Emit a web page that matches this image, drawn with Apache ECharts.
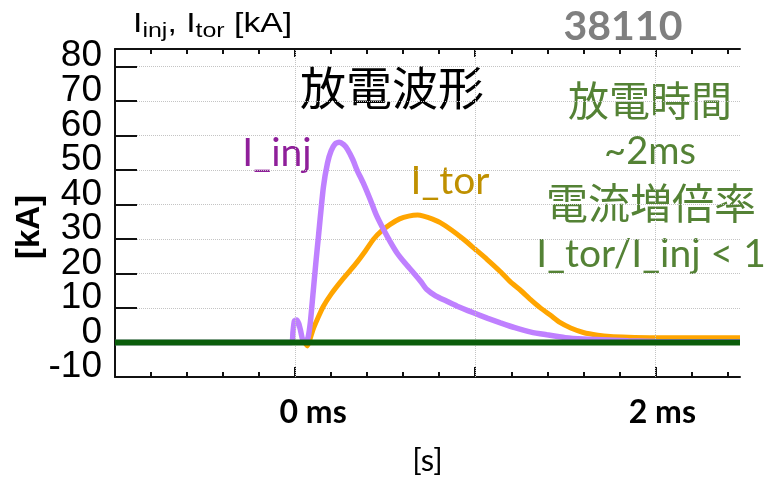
<!DOCTYPE html>
<html>
<head>
<meta charset="utf-8">
<script src="https://cdn.jsdelivr.net/npm/echarts@6/dist/echarts.min.js"></script>
<style>html,body{margin:0;padding:0;background:#fff}#c{width:771px;height:482px}</style>
</head>
<body>
<div id="c"></div>
<script>
// ---- data (time in ms, current in kA) ----
const injT = [-1, -0.02, -0.012, -0.004, 0.008, 0.02, 0.03, 0.042, 0.058, 0.072, 0.085, 0.1, 0.115, 0.13, 0.157, 0.18, 0.2, 0.222, 0.245, 0.27, 0.29, 0.32, 0.343, 0.38, 0.417, 0.45, 0.49, 0.53, 0.565, 0.61, 0.657, 0.7, 0.73, 0.78, 0.84, 0.9, 0.99, 1.07, 1.14, 1.22, 1.31, 1.4, 1.5, 1.6, 1.7, 1.85, 2.0, 2.47];
const injV = [0, 0, 3, 6.2, 6.5, 5.5, 3.5, 0.8, 0.2, 1.5, 6, 14.5, 23, 31, 45, 52, 55.5, 57.5, 58, 57.3, 56, 53, 50, 46, 41.4, 37, 32.8, 29, 26, 23, 20.2, 17.5, 15.4, 13.5, 12, 10.5, 8.6, 7, 5.7, 4.3, 3, 2.2, 1.4, 1, 0.8, 0.5, 0.3, 0.2];
const torT = [-1, 0.05, 0.068, 0.08, 0.1, 0.13, 0.157, 0.2, 0.25, 0.3, 0.343, 0.39, 0.435, 0.48, 0.528, 0.58, 0.63, 0.68, 0.713, 0.76, 0.806, 0.87, 0.935, 1.0, 1.065, 1.14, 1.194, 1.25, 1.306, 1.36, 1.42, 1.47, 1.53, 1.6, 1.68, 1.75, 1.85, 1.97, 2.2, 2.47];
const torV = [0, 0, -1, 0.5, 3.8, 7.5, 10.5, 14, 17.4, 20.5, 23.2, 26.5, 29.9, 32.3, 34.2, 35.8, 36.6, 36.9, 36.6, 35.8, 34.7, 32.5, 29.9, 27, 24.1, 20.5, 17.6, 15.2, 12.5, 10.1, 7.8, 5.8, 4.2, 2.9, 2.1, 1.7, 1.5, 1.4, 1.4, 1.4];
const zeroT = [-1, 2.47];
const zeroV = [0, 0];
const yMainLabels = [0, 10, 20, 30, 40, 50, 60, 70, 80];
const yBottomLabels = [-10];
const minorTicks = [-0.8, -0.6, -0.4, -0.2, 0, 0.2, 0.4, 0.6, 0.8, 1, 1.2, 1.4, 1.6, 1.8, 2, 2.2, 2.4];
const majorTicks = [0, 1, 2];
const xLabelValues = [0, 2];
const xLabelTexts = ['0 ms', '2 ms'];

const pair = (t, v) => t.map((x, i) => [x, v[i]]);
const X_MIN = -1, X_MAX = 2.47;
const black = '#111';

const baseX = {
  type: 'value', min: X_MIN, max: X_MAX, interval: 1,
  splitLine: { show: false }, axisLabel: { show: false },
  axisLine: { show: false, onZero: false }
};
const yLabelStyle = {
  margin: 13, fontFamily: 'Liberation Sans', fontSize: 37, color: '#000',
  lineHeight: 20, verticalAlign: 'bottom', hideOverlap: false
};
const pick = list => v => (list.indexOf(Math.round(v)) >= 0 && Math.abs(v - Math.round(v)) < 1e-6 ? String(Math.round(v)) : '');

const option = {
  animation: false,
  backgroundColor: '#fff',
  grid: { left: 115, right: 31, top: 49, bottom: 105, containLabel: false, outerBoundsMode: 'none' },
  xAxis: [
    Object.assign({}, baseX, {
      position: 'bottom',
      axisLine: { show: true, onZero: false, lineStyle: { color: black, width: 2 } },
      axisTick: { show: true, inside: true, length: 5, customValues: minorTicks, lineStyle: { color: black, width: 2 } },
      axisLabel: {
        show: true, customValues: xLabelValues, margin: 20,
        fontFamily: 'Lato', fontWeight: 'bold', fontSize: 32, color: '#000',
        formatter: v => v === 0 ? '{a|' + xLabelTexts[0] + '}' : '{b|' + xLabelTexts[1] + '}',
        rich: {
          a: { fontFamily: 'Lato', fontWeight: 'bold', fontSize: 32, color: '#000', padding: [0, 0, 0, 36] },
          b: { fontFamily: 'Lato', fontWeight: 'bold', fontSize: 32, color: '#000', padding: [0, 0, 0, 14] }
        }
      },
      name: '[s]', nameLocation: 'middle', nameGap: 68,
      nameTextStyle: { fontFamily: 'Lato', fontSize: 31, color: '#000' }
    }),
    Object.assign({}, baseX, {
      position: 'bottom',
      axisTick: { show: true, inside: true, length: 10, customValues: majorTicks, lineStyle: { color: black, width: 2 } }
    }),
    Object.assign({}, baseX, {
      position: 'top',
      axisLine: { show: true, onZero: false, lineStyle: { color: black, width: 2 } },
      axisTick: { show: true, inside: true, length: 5, customValues: minorTicks, lineStyle: { color: black, width: 2 } }
    }),
    Object.assign({}, baseX, {
      position: 'top',
      axisTick: { show: true, inside: true, length: 8, customValues: majorTicks, lineStyle: { color: black, width: 2 } }
    })
  ],
  yAxis: [
    {
      type: 'value', min: -10, max: 85, interval: 10, position: 'left',
      axisLine: { show: true, onZero: false, lineStyle: { color: black, width: 2 } },
      axisTick: { show: true, inside: true, length: 22, lineStyle: { color: black, width: 2 } },
      splitLine: { show: true, lineStyle: { type: 'dotted', color: '#c4c4c4', width: 1 } },
      axisLabel: Object.assign({}, yLabelStyle, { showMinLabel: true, showMaxLabel: false, formatter: pick(yMainLabels) })
    },
    {
      type: 'value', min: -10, max: 85, interval: 10, position: 'left',
      axisLine: { show: false, onZero: false }, axisTick: { show: false }, splitLine: { show: false },
      axisLabel: Object.assign({}, yLabelStyle, { showMinLabel: true, showMaxLabel: false, formatter: pick(yBottomLabels) })
    }
  ],
  series: [
    {
      type: 'line', xAxisIndex: 0, data: [[X_MIN, 0]], showSymbol: false, silent: true,
      lineStyle: { width: 0, opacity: 0 }, z: 1,
      markLine: {
        silent: true, symbol: ['none', 'none'], label: { show: false },
        lineStyle: { type: 'dotted', color: '#c4c4c4', width: 1 },
        data: majorTicks.map(v => ({ xAxis: v }))
      }
    },
    {
      name: 'I_tor', type: 'line', xAxisIndex: 0, data: pair(torT, torV), showSymbol: false,
      smooth: 0.2, lineStyle: { color: '#FFA500', width: 5 }, z: 3
    },
    {
      name: 'I_inj', type: 'line', xAxisIndex: 0, data: pair(injT, injV), showSymbol: false,
      smooth: 0.2, lineStyle: { color: '#BF80FF', width: 5.5 }, z: 4
    },
    {
      name: 'zero', type: 'line', xAxisIndex: 0, data: pair(zeroT, zeroV), showSymbol: false,
      lineStyle: { color: '#0B5E0B', width: 6 }, z: 5
    }
  ],
  graphic: [
    { type: 'text', x: 133, y: 41, scaleX: 1.25, style: {
      text: 'I{s|inj}, I{s|tor} [kA]', fontFamily: 'Liberation Sans', fontSize: 27, fill: '#000',
      verticalAlign: 'bottom',
      rich: { s: { fontFamily: 'Liberation Sans', fontSize: 20, fill: '#000', padding: [13, 0, 0, 0] } }
    } },
    { type: 'text', x: 623, y: 27, style: { text: '38110', fontFamily: 'Lato', fontWeight: 'bold', fontSize: 41, fill: '#7f7f7f', align: 'center', verticalAlign: 'middle' } },
    { type: 'text', x: 392, y: 88, style: { text: '放電波形', fontFamily: 'Noto Sans CJK JP', fontSize: 46, fill: '#000', align: 'center', verticalAlign: 'middle' } },
    { type: 'text', x: 277, y: 153, style: { text: 'I_inj', fontFamily: 'Lato', fontSize: 39, fill: '#8F1F9A', align: 'center', verticalAlign: 'middle' } },
    { type: 'text', x: 450, y: 181, style: { text: 'I_tor', fontFamily: 'Lato', fontSize: 39, fill: '#BF9000', align: 'center', verticalAlign: 'middle' } },
    { type: 'text', x: 650, y: 100, style: { text: '放電時間', fontFamily: 'Noto Sans CJK JP', fontSize: 41, fill: '#548235', align: 'center', verticalAlign: 'middle' } },
    { type: 'text', x: 650, y: 152, style: { text: '~2ms', fontFamily: 'Lato', fontSize: 38, fill: '#548235', align: 'center', verticalAlign: 'middle' } },
    { type: 'text', x: 651, y: 203, style: { text: '電流増倍率', fontFamily: 'Noto Sans CJK JP', fontSize: 42, fill: '#548235', align: 'center', verticalAlign: 'middle' } },
    { type: 'text', x: 651, y: 254, style: { text: 'I_tor/I_inj < 1', fontFamily: 'Lato', fontSize: 39, fill: '#548235', align: 'center', verticalAlign: 'middle' } },
    { type: 'text', x: 30, y: 227, rotation: Math.PI / 2, style: { text: '[kA]', fontFamily: 'Liberation Sans', fontWeight: 'bold', fontSize: 33, fill: '#000', align: 'center', verticalAlign: 'middle' } }
  ]
};

const chart = echarts.init(document.getElementById('c'), null, { renderer: 'canvas' });
chart.setOption(option);
</script>
</body>
</html>
